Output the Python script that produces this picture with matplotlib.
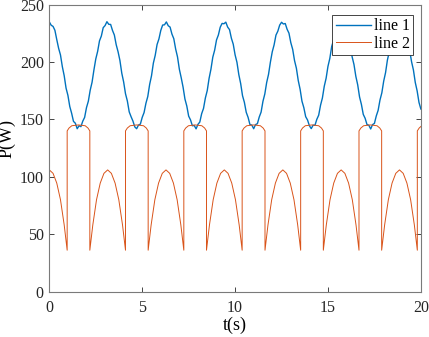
import numpy as np
import matplotlib
matplotlib.use("Agg")
import matplotlib.pyplot as plt

plt.rcParams['font.family'] = ['Liberation Serif', 'DejaVu Serif']

# line 1: sampled every 0.1 s, 0..20 s
t1 = np.linspace(0, 20, 201)
p1 = [
    235.0, 232.1, 231.1, 227.7, 219.6, 212.0, 206.2, 196.0, 188.1, 177.3,
    171.0, 161.3, 155.4, 148.3, 146.7, 141.9, 144.5, 143.7, 148.5, 151.8,
    160.3, 165.9, 175.5, 182.4, 193.1, 202.7, 209.3, 218.5, 222.7, 230.0,
    231.8, 235.2, 232.9, 232.8, 227.6, 223.6, 215.1, 209.0, 201.4, 190.3,
    182.7, 172.4, 166.1, 156.6, 152.4, 148.6, 143.5, 141.9, 145.1, 145.9,
    151.8, 156.0, 164.1, 170.0, 180.5, 188.0, 199.1, 205.9, 215.3, 220.2,
    227.6, 232.3, 232.5, 235.0, 231.7, 230.5, 224.4, 220.4, 211.4, 204.5,
    193.7, 186.3, 178.1, 167.8, 161.7, 152.9, 149.6, 144.5, 144.7, 141.8,
    145.7, 147.7, 155.0, 159.6, 168.7, 175.1, 185.8, 193.8, 204.3, 210.4,
    219.3, 223.6, 230.4, 233.7, 233.4, 234.8, 230.5, 228.3, 220.8, 215.6,
    206.3, 199.8, 189.1, 181.3, 170.7, 164.9, 156.2, 151.8, 145.5, 145.1,
    141.9, 145.5, 146.3, 152.1, 156.4, 165.8, 172.2, 182.2, 189.3, 199.9,
    208.9, 215.0, 223.5, 226.9, 232.2, 234.7, 233.2, 233.6, 228.6, 225.2,
    216.9, 211.1, 201.3, 194.6, 183.9, 176.3, 165.9, 160.3, 152.4, 149.5,
    144.5, 142.0, 145.0, 144.9, 150.1, 153.7, 162.4, 168.7, 178.9, 185.9,
    196.3, 203.2, 213.5, 219.2, 226.7, 229.0, 233.6, 233.3, 234.7, 230.1,
    227.5, 219.9, 214.5, 204.6, 197.9, 187.6, 180.2, 169.6, 163.1, 154.4,
    151.0, 145.6, 144.9, 141.7, 145.5, 146.5, 153.0, 157.9, 166.9, 173.2,
    183.4, 190.8, 201.8, 208.9, 218.0, 222.6, 229.3, 231.0, 235.1, 233.3,
    232.9, 227.6, 223.9, 215.7, 210.1, 200.3, 193.1, 182.2, 174.9, 164.8,
    159.1,
]

# line 2: points
t2 = [
    0.00, 0.20, 0.40, 0.60, 0.80, 0.90, 0.96,
    0.96, 1.06, 1.21, 1.57, 1.93, 2.08, 2.18, 2.18,
    2.24, 2.34, 2.54, 2.74, 2.94, 3.14, 3.34, 3.54, 3.74, 3.94, 4.04, 4.10,
    4.10, 4.20, 4.35, 4.71, 5.07, 5.22, 5.32, 5.32,
    5.38, 5.48, 5.68, 5.88, 6.08, 6.28, 6.48, 6.68, 6.88, 7.08, 7.18, 7.24,
    7.24, 7.34, 7.49, 7.85, 8.21, 8.36, 8.46, 8.46,
    8.52, 8.62, 8.82, 9.02, 9.22, 9.42, 9.62, 9.82, 10.02, 10.22, 10.32, 10.38,
    10.38, 10.48, 10.63, 11.00, 11.36, 11.51, 11.61, 11.61,
    11.67, 11.77, 11.97, 12.17, 12.37, 12.57, 12.77, 12.97, 13.17, 13.37, 13.47, 13.53,
    13.53, 13.63, 13.78, 14.14, 14.50, 14.65, 14.75, 14.75,
    14.81, 14.91, 15.11, 15.31, 15.51, 15.71, 15.91, 16.11, 16.31, 16.51, 16.61, 16.67,
    16.67, 16.77, 16.92, 17.28, 17.64, 17.79, 17.89, 17.89,
    17.95, 18.05, 18.25, 18.45, 18.65, 18.85, 19.05, 19.25, 19.45, 19.65, 19.75, 19.81,
    19.81, 19.91, 20.00,
]
p2 = [
    106, 103, 94.5, 80, 58, 44, 36,
    140, 142.5, 144.5, 145.2, 144.5, 142.5, 140, 36,
    44, 58, 80, 94.5, 103, 106, 103, 94.5, 80, 58, 44, 36,
    140, 142.5, 144.5, 145.2, 144.5, 142.5, 140, 36,
    44, 58, 80, 94.5, 103, 106, 103, 94.5, 80, 58, 44, 36,
    140, 142.5, 144.5, 145.2, 144.5, 142.5, 140, 36,
    44, 58, 80, 94.5, 103, 106, 103, 94.5, 80, 58, 44, 36,
    140, 142.5, 144.5, 145.2, 144.5, 142.5, 140, 36,
    44, 58, 80, 94.5, 103, 106, 103, 94.5, 80, 58, 44, 36,
    140, 142.5, 144.5, 145.2, 144.5, 142.5, 140, 36,
    44, 58, 80, 94.5, 103, 106, 103, 94.5, 80, 58, 44, 36,
    140, 142.5, 144.5, 145.2, 144.5, 142.5, 140, 36,
    44, 58, 80, 94.5, 103, 106, 103, 94.5, 80, 58, 44, 36,
    140, 142.5, 143.8,
]

xticks = [0, 5, 10, 15, 20]
yticks = [0, 50, 100, 150, 200, 250]

fig = plt.figure(figsize=(4.29, 3.37), dpi=100)
ax = fig.add_axes([0.115, 0.135, 0.866, 0.851])

ax.plot(t1, p1, color='#0072BD', lw=1.0, label='line 1')
ax.plot(t2, p2, color='#D95319', lw=0.7, label='line 2')

ax.set_xlim(0, 20)
ax.set_ylim(0, 250)
ax.set_xticks(xticks)
ax.set_yticks(yticks)
ax.tick_params(direction='in', length=3.5, width=0.6, top=True, right=True,
               labelsize=11.5, colors='#262626')
ax.tick_params(axis='x', pad=6)
ax.tick_params(axis='y', pad=4)
for s in ax.spines.values():
    s.set_color('#7a7a7a')
    s.set_linewidth(0.8)

ax.set_xlabel('t(s)', fontsize=13)
ax.set_ylabel('P(W)', fontsize=13)
ax.xaxis.set_label_coords(0.5, -0.088)
ax.yaxis.set_label_coords(-0.09, 0.535)

leg = ax.legend(loc='upper right', bbox_to_anchor=(1 - 7.7 / 371.4, 1 - 10.3 / 287),
                borderaxespad=0, fontsize=11.5, handlelength=2.2, handletextpad=0.2,
                labelspacing=0.1, borderpad=0.2, fancybox=False, framealpha=1)
leg.get_frame().set_edgecolor('#262626')
leg.get_frame().set_linewidth(0.6)

fig.savefig('out.png', dpi=100)
